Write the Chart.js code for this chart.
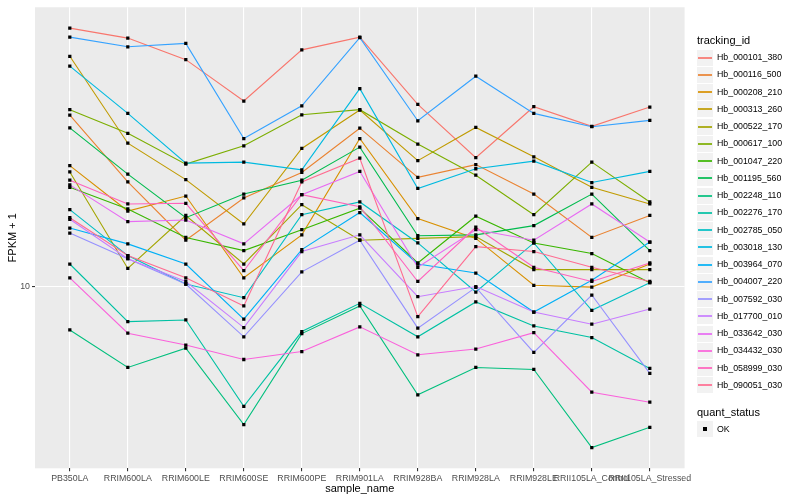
<!DOCTYPE html>
<html>
<head>
<meta charset="utf-8">
<script src="https://cdn.jsdelivr.net/npm/chart.js@4/dist/chart.umd.min.js"></script>
<style>
  html, body { margin: 0; padding: 0; background: #ffffff; }
  #wrap { position: relative; width: 800px; height: 500px; font-family: "Liberation Sans", Arial, sans-serif; }
  #chart { position: absolute; left: 0; top: 0; }
  .lg-title { position: absolute; left: 697px; font-size: 11px; line-height: 13px; color: #000; white-space: nowrap; }
  .lg-key { position: absolute; left: 697px; width: 16px; height: 16px; background: #F2F2F2; }
  .lg-line { position: absolute; left: 1px; width: 14px; top: 7px; height: 2px; opacity: 0.85; }
  .lg-dot { position: absolute; left: 6px; top: 6px; width: 4px; height: 4px; background: #000; }
  .lg-text { position: absolute; left: 717px; font-size: 8.8px; line-height: 11px; color: #000; white-space: nowrap; }
</style>
</head>
<body>
<div id="wrap">
  <canvas id="chart" width="800" height="500"></canvas>
  <div id="legend"></div>
</div>
<script>
// x categories and the y tick shown on the log axis
const sampleNames = ["PB350LA", "RRIM600LA", "RRIM600LE", "RRIM600SE", "RRIM600PE", "RRIM901LA",
  "RRIM928BA", "RRIM928LA", "RRIM928LE", "RRII105LA_Control", "RRII105LA_Stressed"];
const yTicks = [10];

// FPKM + 1 per sample, one array per tracking_id
const hb000101_380 = [73.3, 67.9, 57.5, 41.8, 62.0, 68.4, 40.7, 27.0, 40.0, 34.4, 39.9];
const hb000116_500 = [37.5, 22.4, 14.3, 19.8, 24.1, 33.9, 23.2, 25.6, 20.4, 14.6, 17.3];
const hb000208_210 = [25.4, 17.9, 20.1, 10.7, 14.9, 31.3, 16.9, 14.5, 10.1, 9.96, 11.9];
const hb000313_260 = [59.0, 30.2, 22.8, 16.2, 29.0, 39.0, 26.4, 34.1, 27.2, 21.5, 18.9];
const hb000522_170 = [24.2, 11.5, 17.3, 11.9, 18.8, 14.3, 14.5, 14.7, 11.4, 11.4, 11.4];
const hb000617_100 = [39.1, 32.6, 25.7, 29.6, 37.6, 39.1, 30.0, 23.6, 17.4, 26.1, 19.2];
const hb001047_220 = [21.5, 18.2, 14.6, 13.2, 15.5, 18.3, 12.0, 17.2, 14.0, 12.9, 10.3];
const hb001195_560 = [34.0, 23.8, 17.0, 20.4, 22.7, 29.3, 14.8, 14.9, 16.0, 20.4, 13.2];
const hb002248_110 = [7.16, 5.36, 6.22, 3.45, 6.96, 8.61, 4.34, 5.36, 5.28, 2.89, 3.38];
const hb002276_170 = [11.9, 7.63, 7.73, 3.97, 7.07, 8.79, 6.79, 8.88, 7.38, 6.75, 5.32];
const hb002785_050 = [18.1, 12.7, 10.2, 9.18, 17.4, 19.2, 14.0, 9.59, 14.0, 8.33, 10.3];
const hb003018_130 = [54.7, 38.0, 25.9, 26.1, 24.6, 46.0, 21.3, 24.8, 26.3, 22.3, 24.3];
const hb003964_070 = [15.7, 13.9, 11.9, 7.78, 13.3, 17.7, 11.9, 11.1, 8.22, 10.5, 14.1];
const hb004007_220 = [68.4, 63.5, 65.2, 31.3, 40.3, 68.1, 35.9, 50.6, 38.0, 34.3, 36.0];
const hb007592_030 = [15.1, 12.4, 10.2, 6.79, 11.2, 14.3, 7.26, 9.94, 6.02, 9.37, 5.12];
const hb017700_010 = [16.8, 12.4, 10.4, 7.29, 13.1, 14.9, 9.25, 10.0, 8.22, 7.48, 8.41];
const hb033642_030 = [21.9, 16.5, 16.7, 13.9, 20.3, 24.3, 11.6, 15.5, 14.3, 18.9, 14.1];
const hb034432_030 = [10.7, 6.98, 6.37, 5.70, 6.06, 7.33, 5.91, 6.18, 7.01, 4.43, 4.10];
const hb058999_030 = [22.7, 18.9, 19.0, 11.3, 20.3, 18.5, 10.4, 15.8, 11.6, 10.4, 12.0];
const hb090051_030 = [17.0, 12.7, 10.7, 8.61, 22.4, 26.9, 7.93, 13.6, 13.1, 11.6, 10.4];

const trackingIds = ["Hb_000101_380", "Hb_000116_500", "Hb_000208_210", "Hb_000313_260", "Hb_000522_170",
  "Hb_000617_100", "Hb_001047_220", "Hb_001195_560", "Hb_002248_110", "Hb_002276_170",
  "Hb_002785_050", "Hb_003018_130", "Hb_003964_070", "Hb_004007_220", "Hb_007592_030",
  "Hb_017700_010", "Hb_033642_030", "Hb_034432_030", "Hb_058999_030", "Hb_090051_030"];
const seriesValues = [hb000101_380, hb000116_500, hb000208_210, hb000313_260, hb000522_170,
  hb000617_100, hb001047_220, hb001195_560, hb002248_110, hb002276_170,
  hb002785_050, hb003018_130, hb003964_070, hb004007_220, hb007592_030,
  hb017700_010, hb033642_030, hb034432_030, hb058999_030, hb090051_030];

// ggplot default hue palette for 20 levels
const seriesColors = ["#F8766D", "#EA8331", "#D89000", "#C09B00", "#A3A500", "#7CAE00", "#39B600",
  "#00BB4E", "#00BF7D", "#00C1A3", "#00BFC4", "#00BAE0", "#00B0F6", "#35A2FF", "#9590FF",
  "#C77CFF", "#E76BF3", "#FA62DB", "#FF62BC", "#FF6C91"];

const fontFamily = '"Liberation Sans", Arial, sans-serif';

// grey panel behind the grid, like theme_grey
const panelBackground = {
  id: "panelBackground",
  beforeDraw(chart) {
    const { ctx, chartArea } = chart;
    ctx.save();
    ctx.fillStyle = "#EBEBEB";
    ctx.fillRect(chartArea.left, chartArea.top, chartArea.right - chartArea.left, chartArea.bottom - chartArea.top);
    ctx.restore();
  }
};

const lineDatasets = trackingIds.map((id, i) => ({
  type: "line",
  label: id,
  data: seriesValues[i].map((v, j) => ({ x: j, y: v })),
  borderColor: seriesColors[i],
  borderWidth: 1.1,
  pointRadius: 0,
  fill: false,
  tension: 0,
  order: trackingIds.length - i
}));

// all points share quant_status "OK", drawn on top of every line
const pointDataset = {
  type: "scatter",
  label: "OK",
  data: seriesValues.flatMap(vals => vals.map((v, j) => ({ x: j, y: v }))),
  pointStyle: "rect",
  pointRadius: 2.3,
  backgroundColor: "#000000",
  borderWidth: 0,
  order: 0
};

const chart = new Chart(document.getElementById("chart"), {
  data: { datasets: [...lineDatasets, pointDataset] },
  options: {
    responsive: false,
    animation: false,
    layout: { padding: { left: 0, right: 115.4, top: 5, bottom: 0 } },
    plugins: { legend: { display: false }, tooltip: { enabled: false } },
    scales: {
      x: {
        type: "linear",
        min: -0.6,
        max: 10.6,
        afterBuildTicks: s => { s.ticks = sampleNames.map((_, i) => ({ value: i })); },
        afterFit: s => { s.height = 31.7; },
        ticks: {
          callback: v => sampleNames[v],
          autoSkip: false, maxRotation: 0, minRotation: 0,
          color: "#4D4D4D", font: { family: fontFamily, size: 8.8 }, padding: 2
        },
        grid: { color: "#FFFFFF", lineWidth: 1.1, tickColor: "#333333", tickLength: 3 },
        border: { display: false },
        title: { display: true, text: "sample_name", color: "#000000",
          font: { family: fontFamily, size: 11 }, padding: { top: 0, bottom: 4.5 } }
      },
      y: {
        type: "logarithmic",
        min: 2.464,
        max: 86.1,
        afterBuildTicks: s => { s.ticks = yTicks.map(v => ({ value: v })); },
        afterFit: s => { s.width = 35; },
        ticks: {
          callback: v => String(v),
          color: "#4D4D4D", font: { family: fontFamily, size: 8.8 }, padding: 2
        },
        grid: { color: "#FFFFFF", lineWidth: 1.1, tickColor: "#333333", tickLength: 3 },
        border: { display: false },
        title: { display: true, text: "FPKM + 1", color: "#000000",
          font: { family: fontFamily, size: 11 }, padding: { top: 6, bottom: 0 } }
      }
    }
  },
  plugins: [panelBackground]
});

// legend in ggplot style, to the right of the panel
const legend = document.getElementById("legend");
const addEl = (cls, top, text) => {
  const el = document.createElement("div");
  el.className = cls;
  el.style.top = Math.round(top) + "px";
  if (text) el.textContent = text;
  legend.appendChild(el);
  return el;
};
addEl("lg-title", 34.2, "tracking_id");
trackingIds.forEach((id, i) => {
  const rowCenter = 57.7 + i * 17.24;
  const key = addEl("lg-key", rowCenter - 8);
  const line = document.createElement("div");
  line.className = "lg-line";
  line.style.background = seriesColors[i];
  key.appendChild(line);
  addEl("lg-text", rowCenter - 5.5, id);
});
addEl("lg-title", 405.8, "quant_status");
const okKey = addEl("lg-key", 429.3 - 8);
const dot = document.createElement("div");
dot.className = "lg-dot";
okKey.appendChild(dot);
addEl("lg-text", 429.3 - 5.5, "OK");
</script>
</body>
</html>
